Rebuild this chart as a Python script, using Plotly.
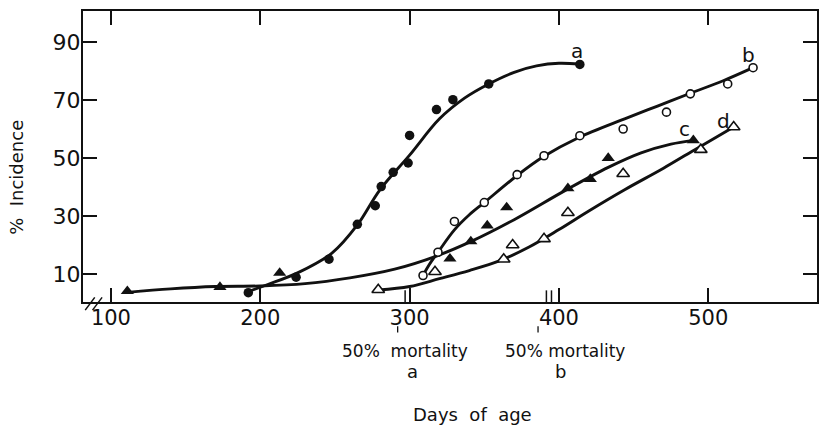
import plotly.graph_objects as go

# ---- observed data (days of age, % incidence) ----
a_days = [192, 224, 246, 265, 277, 281, 289, 299, 300, 318, 329, 353, 414]
a_pct = [3.7, 9.0, 15.2, 27.2, 33.6, 40.2, 45.1, 48.3, 57.8, 66.7, 70.1, 75.5, 82.2]

b_days = [309, 319, 330, 350, 372, 390, 414, 443, 472, 488, 513, 530]
b_pct = [9.6, 17.6, 28.2, 34.7, 44.3, 50.8, 57.7, 60.0, 65.8, 72.1, 75.5, 81.1]

c_days = [111, 173, 213, 327, 341, 352, 365, 406, 421, 433, 490]
c_pct = [4.2, 5.6, 10.5, 15.4, 21.3, 26.8, 33.0, 39.6, 42.8, 50.0, 56.1]

d_days = [279, 317, 363, 369, 390, 406, 443, 495, 517]
d_pct = [4.7, 10.9, 15.2, 20.1, 22.2, 31.2, 44.6, 52.9, 60.7]

# ---- fitted curves ----
fa_x = [190, 205, 225, 248, 265, 280, 300, 320, 337, 353, 370, 385, 400, 414]
fa_y = [3.7, 6.5, 10.5, 17.3, 27.0, 39.0, 51.0, 63.5, 70.7, 75.5, 79.5, 81.7, 82.6, 82.3]

fb_x = [309, 313, 319, 330, 340, 350, 372, 390, 413, 444, 466, 488, 510, 530]
fb_y = [9.6, 13.2, 17.6, 25.3, 30.5, 34.7, 44.0, 50.6, 57.0, 63.5, 67.9, 72.3, 76.6, 81.1]

fc_x = [111, 140, 170, 200, 230, 260, 290, 318, 342, 370, 404, 433, 455, 475, 490]
fc_y = [3.8, 5.0, 5.8, 6.0, 6.8, 8.8, 11.8, 16.3, 21.5, 28.8, 38.8, 46.8, 51.8, 54.8, 56.1]

fd_x = [279, 300, 320, 340, 360, 380, 400, 420, 444, 470, 493, 517]
fd_y = [4.6, 5.8, 8.5, 11.3, 14.6, 19.4, 25.4, 31.8, 39.1, 46.5, 53.5, 60.7]

x_ticks = [100, 200, 300, 400, 500]
y_ticks = [10, 30, 50, 70, 90]

curve_labels = ["a", "b", "c", "d"]
curve_label_x = [412, 527, 484, 510]
curve_label_y = [86.8, 85.6, 60.0, 62.8]

mortality_days = [298.7, 393.3]      # 50% mortality markers
mortality_texts = ["50%\u00a0\u00a0mortality", "50%\u00a0mortality"]
mortality_letters = ["a", "b"]

FONT = "DejaVu Sans"
BLACK = "#111111"

fig = go.Figure()

for fx, fy in [(fa_x, fa_y), (fb_x, fb_y), (fc_x, fc_y), (fd_x, fd_y)]:
    fig.add_trace(go.Scatter(x=fx, y=fy, mode="lines",
                             line=dict(color=BLACK, width=2.9, shape="spline", smoothing=1.0),
                             hoverinfo="skip", showlegend=False))

fig.add_trace(go.Scatter(x=a_days, y=a_pct, mode="markers", showlegend=False,
                         marker=dict(symbol="circle", size=9.5, color=BLACK)))
fig.add_trace(go.Scatter(x=b_days, y=b_pct, mode="markers", showlegend=False,
                         marker=dict(symbol="circle", size=8, color="white",
                                     line=dict(color=BLACK, width=1.6))))
fig.add_trace(go.Scatter(x=c_days, y=c_pct, mode="markers", showlegend=False,
                         marker=dict(symbol="triangle-up", size=11.5, color=BLACK)))
fig.add_trace(go.Scatter(x=d_days, y=d_pct, mode="markers", showlegend=False,
                         marker=dict(symbol="triangle-up", size=11, color="white",
                                     line=dict(color=BLACK, width=1.6))))

annotations = []
for t, x, y in zip(curve_labels, curve_label_x, curve_label_y):
    annotations.append(dict(x=x, y=y, xref="x", yref="y", text=t, showarrow=False,
                            xanchor="center", yanchor="middle",
                            font=dict(family=FONT, size=20, color=BLACK)))

label_x = [297, 404]
letter_x = [302, 401]
for txt, lx, letter, ltx in zip(mortality_texts, label_x, mortality_letters, letter_x):
    annotations.append(dict(x=lx, y=-0.168, xref="x", yref="paper", text=txt,
                            xanchor="center", yanchor="middle",
                            showarrow=False, font=dict(family=FONT, size=17, color=BLACK)))
    annotations.append(dict(x=ltx, y=-0.24, xref="x", yref="paper", text=letter,
                            xanchor="center", yanchor="middle",
                            showarrow=False, font=dict(family=FONT, size=18, color=BLACK)))

annotations.append(dict(x=0.53, y=-0.385, xref="paper", yref="paper",
                        xanchor="center", yanchor="middle",
                        text="Days\u00a0\u00a0of\u00a0\u00a0age", showarrow=False,
                        font=dict(family=FONT, size=18, color=BLACK)))
annotations.append(dict(x=-0.09, y=0.43, xref="paper", yref="paper", textangle=-90,
                        xanchor="center", yanchor="middle",
                        text="%\u00a0\u00a0Incidence", showarrow=False,
                        font=dict(family=FONT, size=18, color=BLACK)))

shapes = []
# double tick marks at 50% mortality days
for d in mortality_days:
    for off in (-1.7, 1.7):
        shapes.append(dict(type="line", xref="x", yref="paper", x0=d + off, x1=d + off,
                           y0=0.0, y1=0.04, line=dict(color=BLACK, width=1.5)))
for d in [292, 386]:
    shapes.append(dict(type="line", xref="x", yref="paper", x0=d, x1=d,
                       y0=-0.083, y1=-0.105, line=dict(color=BLACK, width=1.3)))
# axis break marks
for xo in (0.003, 0.013):
    shapes.append(dict(type="line", xref="paper", yref="paper", x0=xo, x1=xo + 0.013,
                       y0=-0.028, y1=0.016, line=dict(color=BLACK, width=1.5)))

fig.update_layout(
    width=819, height=426,
    margin=dict(l=83, r=0, t=11, b=124),
    paper_bgcolor="white", plot_bgcolor="white",
    font=dict(family=FONT, size=21, color=BLACK),
    annotations=annotations, shapes=shapes,
    xaxis=dict(range=[81.3, 572.8], tickvals=x_ticks, ticktext=[str(v) for v in x_ticks],
               ticks="inside", ticklen=14, tickwidth=1.5, tickcolor=BLACK,
               showline=True, linecolor=BLACK, linewidth=2, mirror="ticks",
               ticklabelstandoff=-4,
               showgrid=False, zeroline=False, tickfont=dict(family=FONT, size=21, color=BLACK)),
    yaxis=dict(range=[0.48, 100.6], tickvals=y_ticks, ticktext=[str(v) for v in y_ticks],
               ticks="inside", ticklen=14, tickwidth=1.5, tickcolor=BLACK,
               showline=True, linecolor=BLACK, linewidth=2, mirror="ticks",
               ticklabelstandoff=-4,
               showgrid=False, zeroline=False, tickfont=dict(family=FONT, size=22, color=BLACK)),
)

fig.write_html("out.html", config={"displayModeBar": False},
               post_script="document.body.style.margin='0';document.body.style.overflow='hidden';")
